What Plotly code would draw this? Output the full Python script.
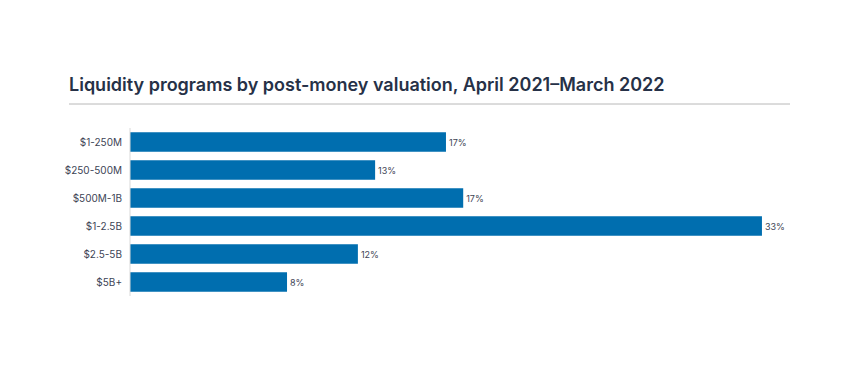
import plotly.graph_objects as go

categories = ["$1-250M", "$250-500M", "$500M-1B", "$1-2.5B", "$2.5-5B", "$5B+"]
values = [16.5, 12.8, 17.4, 33.0, 11.9, 8.2]
labels = ["17%", "13%", "17%", "33%", "12%", "8%"]

fig = go.Figure(go.Bar(
    x=values, y=categories, orientation="h",
    marker=dict(color="#006EAF", line=dict(width=0)),
    text=labels, textposition="outside", cliponaxis=False,
    textfont=dict(family="Inter", size=9, color="#3d4455"),
    width=0.7,
))

W, H = 850, 386
OFF = 8  # page body offset
l, r, t, b = 130 - OFF, 60 + OFF, 128 - OFF, 90 + OFF
pw, ph = W - l - r, H - t - b
fig.update_layout(
    width=W, height=H,
    margin=dict(l=l, r=r, t=t, b=b),
    paper_bgcolor="white", plot_bgcolor="white",
    showlegend=False,
    font=dict(family="Inter", color="#3d4455"),
    title=dict(
        text="Liquidity programs by post-money valuation, April 2021–March 2022",
        font=dict(family="Inter", size=18, color="#263147", weight=600),
        xref="container", yref="container",
        x=(69 - OFF) / W, xanchor="left", y=1 - (85 - OFF) / H, yanchor="middle",
    ),
    xaxis=dict(range=[0, 660 / 19.15], visible=False, fixedrange=True),
    yaxis=dict(
        autorange="reversed", showgrid=False, zeroline=False,
        showline=False, ticks="", ticklabelstandoff=7,
        tickfont=dict(family="Inter", size=10, color="#3d4455"),
    ),
    shapes=[
        dict(type="line", xref="paper", yref="paper",
             x0=(69 - 130) / pw, x1=1,
             y0=(296 - 104) / ph, y1=(296 - 104) / ph,
             line=dict(color="#b8b8b8", width=1)),
        dict(type="line", xref="paper", yref="paper",
             x0=0, x1=0, y0=0, y1=1,
             line=dict(color="#d9d9d9", width=1)),
    ],
)

fig.write_html("out.html")
